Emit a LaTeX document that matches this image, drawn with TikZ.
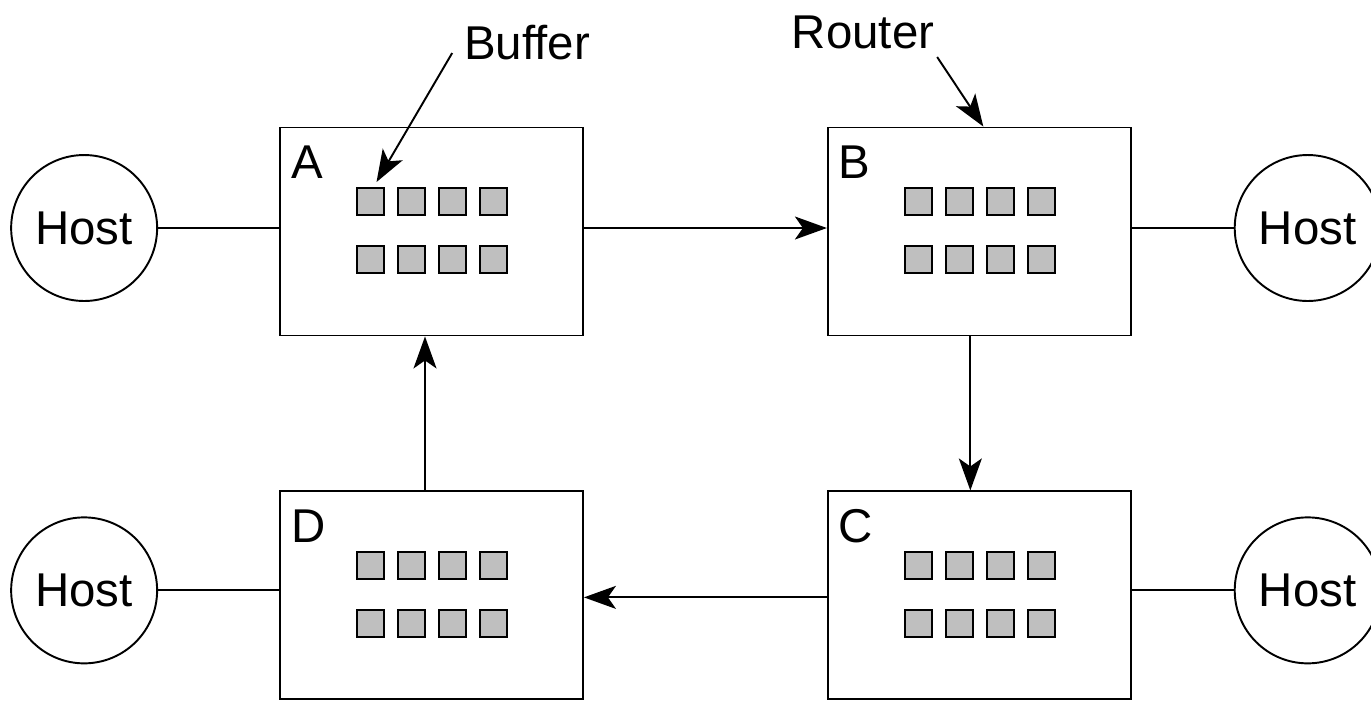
\documentclass[tikz,border=0pt]{standalone}
\usepackage{fontspec}
\setmainfont{Liberation Sans}
\usetikzlibrary{positioning,arrows.meta}

\begin{document}
\begin{tikzpicture}[x=0.02cm,y=-0.02cm,line width=1.1pt,
		font=\fontsize{27}{32}\selectfont,
		>={Stealth[length=0.64cm,width=0.46cm,inset=0.16cm]},
		router/.style = {draw, minimum width=6.06cm, minimum height=4.16cm, inner sep=0pt},
		host/.style = {circle, draw, minimum size=2.92cm, inner sep=0pt},
		buf/.style = {draw, fill=black!25, minimum size=0.54cm, inner sep=0pt}]

		\useasboundingbox (0,0) rectangle (1371,701);

		\node[router] (A) at (431.5,231.5) {};
		\node[router] [right=4.86cm of A] (B) {};
		\node[router] [below=3.08cm of B] (C) {};
		\node[router] [below=3.08cm of A] (D) {};

		\node[host] [left=2.42cm of A, yshift=0.07cm] (hA) {Host};
		\node[host] [right=2.04cm of B, yshift=0.07cm] (hB) {Host};
		\node[host] [right=2.04cm of C, yshift=0.1cm] (hC) {Host};
		\node[host] [left=2.42cm of D, yshift=0.1cm] (hD) {Host};

		% router letters and buffers
		\foreach \r in {A,B,C,D} {
			\node[anchor=base west, inner sep=0pt] (l\r) at ([xshift=0.22cm,yshift=-1.04cm]\r.north west) {\r};
			\foreach \i/\dx in {1/-61,2/-20,3/21,4/62}
				\foreach \j/\dy in {1/-30,2/28}
					\node[buf] (\r\j\i) at ([shift={(\dx,\dy)}]\r) {};
		}

		\node[anchor=base, inner sep=0pt] (buflbl) at (527,59) {Buffer};
		\node[anchor=base, inner sep=0pt] (rtrlbl) at (863,48) {Router};

		\path[-]
		(hA) edge (hA -| A.west)
		(hB) edge (hB -| B.east)
		(hC) edge (hC -| C.east)
		(hD) edge (hD -| D.west);

		\path[->]
		([yshift=0.07cm]A.east) edge ([yshift=0.07cm]B.west)
		([xshift=-0.18cm]B.south) edge ([xshift=-0.18cm]C.north)
		([yshift=-0.04cm]C.west) edge ([yshift=-0.04cm]D.east)
		([xshift=-0.13cm]D.north) edge ([xshift=-0.13cm]A.south)
		([xshift=-0.22cm,yshift=0.12cm]buflbl.base west) edge ([xshift=0.12cm,yshift=0.1cm]A11.north)
		([xshift=0.04cm,yshift=-0.18cm]rtrlbl.base east) edge ([xshift=0.08cm]B.north);
\end{tikzpicture}
\end{document}
